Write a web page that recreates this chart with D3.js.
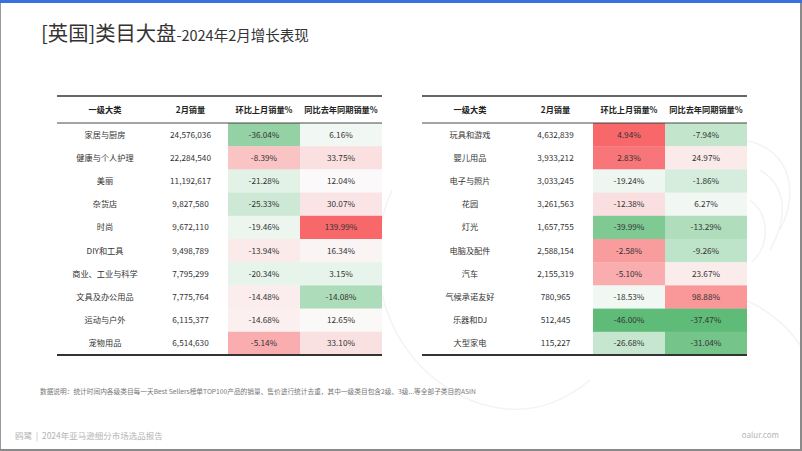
<!DOCTYPE html>
<html><head><meta charset="utf-8">
<script src="https://cdn.jsdelivr.net/npm/d3@7"></script>
<style>
html,body{margin:0;padding:0;background:#fff;}
svg{display:block;font-family:"Noto Sans CJK SC","Noto Sans",sans-serif;}
</style></head>
<body>
<svg id="chart" width="802" height="451"></svg>
<script>
// ---------- data ----------
const headers = ["一级大类", "2月销量", "环比上月销量%", "同比去年同期销量%"];

const leftCategories = ["家居与厨房","健康与个人护理","美丽","杂货店","时尚","DIY和工具","商业、工业与科学","文具及办公用品","运动与户外","宠物用品"];
const leftSales = [24576036, 22284540, 11192617, 9827580, 9672110, 9498789, 7795299, 7775764, 6115377, 6514630];
const leftMoM = [-36.04, -8.39, -21.28, -25.33, -19.46, -13.94, -20.34, -14.48, -14.68, -5.14];
const leftYoY = [6.16, 33.75, 12.04, 30.07, 139.99, 16.34, 3.15, -14.08, 12.65, 33.10];

const rightCategories = ["玩具和游戏","婴儿用品","电子与照片","花园","灯光","电脑及配件","汽车","气候承诺友好","乐器和DJ","大型家电"];
const rightSales = [4632839, 3933212, 3033245, 3261563, 1657755, 2588154, 2155319, 780965, 512445, 115227];
const rightMoM = [4.94, 2.83, -19.24, -12.38, -39.99, -2.58, -5.10, -18.53, -46.00, -26.68];
const rightYoY = [-7.94, 24.97, -1.86, 6.27, -13.29, -9.26, 23.67, 98.88, -37.47, -31.04];

const titleMain = "[英国]类目大盘";
const titleSub = "-2024年2月增长表现";
const footnote = "数据说明：统计时间内各级类目每一天Best Sellers榜单TOP100产品的销量、售价进行统计去重，其中一级类目包含2级、3级...等全部子类目的ASIN";
const footerLeft = "鸥鹭  |  2024年亚马逊细分市场选品报告";
const footerRight = "oalur.com";

// ---------- drawing ----------
const svg = d3.select("#chart");
const W = 802, H = 451;

// watermark curves
const wm = svg.append("g").attr("fill","none").attr("stroke","#f3f3f3").attr("stroke-width",1.5);
wm.append("path").attr("d","M392,190 C360,260 380,360 470,400 C520,420 560,405 590,380");
wm.append("path").attr("d","M745,140 C790,150 800,190 780,230 M760,170 C785,185 790,215 770,250 M750,200 C770,215 770,245 752,262");
wm.append("path").attr("d","M745,300 C770,310 790,330 800,345");

// frame
svg.append("rect").attr("x",0).attr("y",0).attr("width",W).attr("height",3).attr("fill","#3b6ee0");
svg.append("rect").attr("x",0).attr("y",3).attr("width",1).attr("height",H-3).attr("fill","#9a9a9a");
svg.append("rect").attr("x",W-2).attr("y",3).attr("width",2).attr("height",H-3).attr("fill","#8a8a8a");
svg.append("rect").attr("x",0).attr("y",H-2).attr("width",W).attr("height",2).attr("fill","#8a8a8a");

// title
const t = svg.append("text").attr("x",41).attr("y",41).attr("fill","#333");
t.append("tspan").attr("font-size",20.3).text(titleMain);
t.append("tspan").attr("font-size",14.5).text(titleSub);

// colour scales across both tables per column
function colorScale(vals){
  const s = vals.slice().sort(d3.ascending);
  return d3.scaleLinear()
    .domain([d3.min(s), d3.median(s), d3.max(s)])
    .range(["#5fbc78","#fbfcfc","#f8686b"])
    .interpolate(d3.interpolateRgb);
}
const momColor = colorScale(leftMoM.concat(rightMoM));
const yoyColor = colorScale(leftYoY.concat(rightYoY));

const loc = d3.formatLocale({decimal:".", thousands:",", grouping:[3], currency:["",""], minus:"-"});
const fmtInt = loc.format(",");
const fmtPct = v => loc.format(".2f")(v) + "%";

const colEdges = [0, 96, 171, 243, 325]; // relative column boundaries
const topY = 96, headY = 123, bottomY = 355;

function drawTable(x0, cats, sales, mom, yoy){
  const g = svg.append("g").attr("transform",`translate(${x0},0)`);
  const y = d3.scaleBand().domain(d3.range(cats.length)).range([headY, bottomY]).paddingInner(0);
  const rows = cats.map((c,i)=>({cat:c, sale:sales[i], mom:mom[i], yoy:yoy[i], i}));

  // shaded cells
  g.selectAll("rect.mom").data(rows).join("rect")
    .attr("x",colEdges[2]).attr("width",colEdges[3]-colEdges[2])
    .attr("y",d=>y(d.i)).attr("height",y.bandwidth()+0.3)
    .attr("fill",d=>momColor(d.mom));
  g.selectAll("rect.yoy").data(rows).join("rect")
    .attr("x",colEdges[3]).attr("width",colEdges[4]-colEdges[3])
    .attr("y",d=>y(d.i)).attr("height",y.bandwidth()+0.3)
    .attr("fill",d=>yoyColor(d.yoy));

  const cx = k => (colEdges[k]+colEdges[k+1])/2;
  // header
  g.selectAll("text.h").data(headers).join("text")
    .attr("x",(d,k)=>cx(k)).attr("y",(topY+headY)/2+3)
    .attr("text-anchor","middle").attr("font-size",8.2).attr("font-weight","bold")
    .attr("fill","#222").text(d=>d);

  const cols = [d=>d.cat, d=>fmtInt(d.sale), d=>fmtPct(d.mom), d=>fmtPct(d.yoy)];
  cols.forEach((f,k)=>{
    g.selectAll("text.c"+k).data(rows).join("text")
      .attr("x",cx(k)).attr("y",d=>y(d.i)+y.bandwidth()/2+3)
      .attr("text-anchor","middle").attr("font-size",8.2)
      .attr("fill","#333").text(f);
  });

  // rules
  g.append("line").attr("x1",0).attr("x2",colEdges[4]).attr("y1",topY).attr("y2",topY)
    .attr("stroke","#333").attr("stroke-width",1.6);
  g.append("line").attr("x1",0).attr("x2",colEdges[4]).attr("y1",headY).attr("y2",headY)
    .attr("stroke","#333").attr("stroke-width",0.9);
  g.append("line").attr("x1",0).attr("x2",colEdges[4]).attr("y1",bottomY).attr("y2",bottomY)
    .attr("stroke","#333").attr("stroke-width",1.8);
}

drawTable(57, leftCategories, leftSales, leftMoM, leftYoY);
drawTable(422, rightCategories, rightSales, rightMoM, rightYoY);

// footnote
svg.append("text").attr("x",40).attr("y",394).attr("font-size",6.7).attr("fill","#777").text(footnote);

// footer
svg.append("text").attr("x",15).attr("y",439).attr("font-size",8.5).attr("fill","#b5b5b5")
  .attr("xml:space","preserve").style("white-space","pre").text(footerLeft);
svg.append("text").attr("x",779).attr("y",438).attr("text-anchor","end").attr("font-size",8)
  .attr("fill","#b5b5b5").text(footerRight);
</script>
</body></html>
